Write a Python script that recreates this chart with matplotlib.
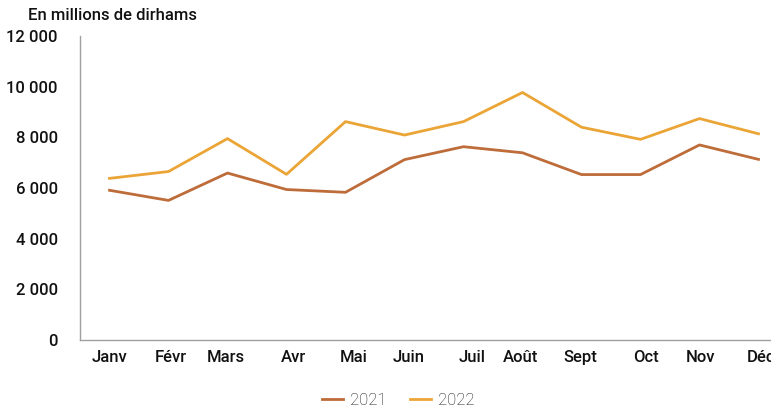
import matplotlib.pyplot as plt
import matplotlib.transforms as mtransforms

plt.rcParams['font.family'] = ['Roboto', 'DejaVu Sans']

months = ['Janv', 'Févr', 'Mars', 'Avr', 'Mai', 'Juin', 'Juil', 'Août', 'Sept', 'Oct', 'Nov', 'Déc']
v2021 = [5910, 5510, 6590, 5940, 5830, 7120, 7630, 7390, 6530, 6530, 7700, 7130]
v2022 = [6380, 6650, 7950, 6540, 8620, 8090, 8620, 9770, 8400, 7920, 8740, 8140]
yticks = [0, 2000, 4000, 6000, 8000, 10000, 12000]

# the labels in the source sit a bit off the points
label_shift = [0, 2, -2, 7, 8, 4, 9, -2, -1, 6, 1, 3]

fig = plt.figure(figsize=(7.71, 4.11), dpi=100)
ax = fig.add_axes([80/771, 71/411, 708/771, 304/411])

x = range(len(months))
ax.plot(x, v2021, color='#BD6C3A', lw=2, label='2021')
ax.plot(x, v2022, color='#EBA536', lw=2, label='2022')

ax.set_xlim(-0.5, 11.5)
ax.set_ylim(0, 12000)
ax.set_yticks(yticks)
ax.set_yticklabels([f'{v:,}'.replace(',', ' ') for v in yticks], fontsize=12, fontweight='medium')
ax.set_xticks(list(x))
ax.set_xticklabels(months, fontsize=12, fontweight='medium')
ax.tick_params(axis='both', length=0, colors='#111111')
ax.tick_params(axis='y', pad=16)
ax.tick_params(axis='x', pad=7)

for lab, dx in zip(ax.get_xticklabels(), label_shift):
    lab.set_transform(lab.get_transform() + mtransforms.ScaledTranslation(dx/100, 0, fig.dpi_scale_trans))

for s in ['top', 'right']:
    ax.spines[s].set_visible(False)
for s in ['left', 'bottom']:
    ax.spines[s].set_color('#A0A0A0')
    ax.spines[s].set_linewidth(1)

fig.text(28/771, 1 - 15/411, 'En millions de dirhams', fontsize=12, fontweight='medium',
         va='center', ha='left', color='#111111')

leg = fig.legend(loc='center', bbox_to_anchor=(398/771, 1 - 400/411), ncol=2, frameon=False,
                 fontsize=12, handlelength=1.3, handletextpad=0.4, columnspacing=1.4)
for t in leg.get_texts():
    t.set_fontweight('light')
    t.set_color('#111111')

fig.savefig('out.png', dpi=100)
